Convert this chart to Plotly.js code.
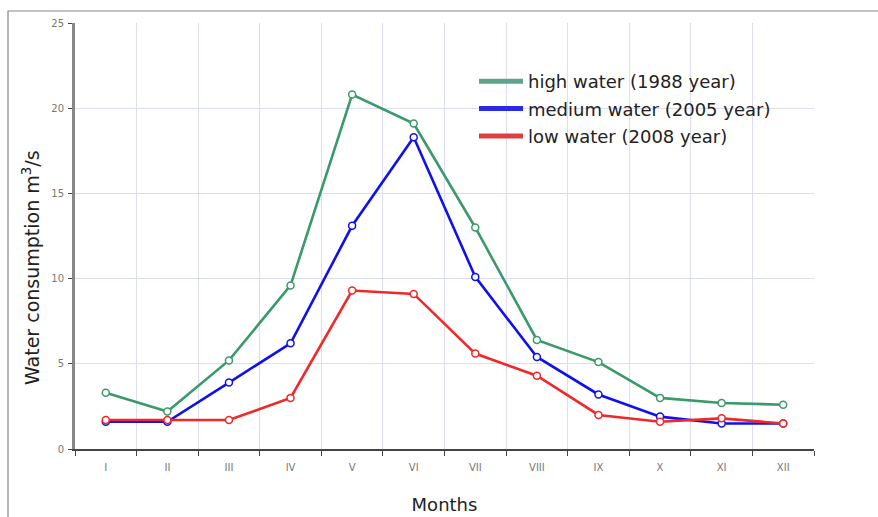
<!DOCTYPE html>
<html>
<head>
<meta charset="utf-8">
<script src="https://cdn.plot.ly/plotly-3.0.1.min.js"></script>
<style>html,body{margin:0;padding:0;background:#fff;}#chart{width:878px;height:517px;}</style>
</head>
<body>
<div id="chart"></div>
<script>
const months = ["I","II","III","IV","V","VI","VII","VIII","IX","X","XI","XII"];
const highWater = [3.3, 2.2, 5.2, 9.6, 20.8, 19.1, 13.0, 6.4, 5.1, 3.0, 2.7, 2.6];
const mediumWater = [1.6, 1.6, 3.9, 6.2, 13.1, 18.3, 10.1, 5.4, 3.2, 1.9, 1.5, 1.5];
const lowWater = [1.7, 1.7, 1.7, 3.0, 9.3, 9.1, 5.6, 4.3, 2.0, 1.6, 1.8, 1.5];
const seriesNames = ["high water (1988 year)", "medium water (2005 year)", "low water (2008 year)"];
const seriesColors = ["#3a9a6a", "#1010ee", "#f02828"];
const legendColors = ["#5ea488", "#2a2ae6", "#dc4040"];

const allSeries = [highWater, mediumWater, lowWater];
const traces = allSeries.map((vals, i) => ({
  type: "scatter",
  mode: "lines+markers",
  x: months,
  y: vals,
  name: seriesNames[i],
  showlegend: false,
  line: {color: seriesColors[i], width: 2.6},
  marker: {symbol: "circle", size: 7, color: "#ffffff", line: {color: seriesColors[i], width: 1.5}}
}));
// legend entries (line-only swatches)
seriesNames.forEach((n, i) => traces.push({
  type: "scatter", mode: "lines", x: [null], y: [null], name: n,
  legendgroup: "g" + i, showlegend: true,
  line: {color: legendColors[i], width: 5}
}));

const W = 878, H = 517, L = 75, R = 64, T = 23, B = 68;
const pw = W - L - R, ph = H - T - B;
const px = v => (v - L) / pw;
const py = v => (H - B - v) / ph;

const layout = {
  width: W, height: H,
  margin: {l: L, r: R, t: T, b: B},
  paper_bgcolor: "#ffffff",
  plot_bgcolor: "#ffffff",
  font: {family: "DejaVu Sans, Verdana, sans-serif", color: "#222"},
  showlegend: true,
  legend: {
    x: px(474), y: py(63), xanchor: "left", yanchor: "top",
    bgcolor: "rgba(255,255,255,0)",
    font: {size: 18, color: "#222"},
    itemwidth: 44,
    tracegroupgap: 1
  },
  xaxis: {
    type: "category",
    tickson: "boundaries",
    ticks: "outside", ticklen: 5, tickcolor: "#444",
    showline: true, linecolor: "#444", linewidth: 2,
    showgrid: true, gridcolor: "#dcdcf4", gridwidth: 1,
    tickfont: {size: 10, color: "#777"},
    ticklabelstandoff: 8,
    title: {text: "Months", font: {size: 18, color: "#222"}, standoff: 26},
    range: [-0.5, 11.5],
    zeroline: false
  },
  yaxis: {
    range: [0, 25],
    tickvals: [0, 5, 10, 15, 20, 25],
    ticks: "outside", ticklen: 4, tickcolor: "#444",
    showline: true, linecolor: "#888", linewidth: 3,
    showgrid: true, gridcolor: "#dcdcf4", gridwidth: 1,
    zeroline: false,
    tickfont: {size: 10, color: "#777"},
    ticklabelstandoff: 2
  },
  annotations: [{
    text: "Water consumption m<sup>3</sup>/s",
    xref: "paper", yref: "paper", x: px(31), y: py(268),
    xanchor: "center", yanchor: "middle", textangle: -90, showarrow: false,
    font: {size: 19, color: "#222"}
  }],
  shapes: [{
    type: "rect", xref: "paper", yref: "paper",
    x0: px(8), x1: px(900), y0: py(540), y1: py(11),
    line: {color: "#888", width: 1.2}, fillcolor: "rgba(0,0,0,0)", layer: "above"
  }]
};

Plotly.newPlot("chart", traces, layout, {displayModeBar: false, staticPlot: true});
</script>
</body>
</html>
